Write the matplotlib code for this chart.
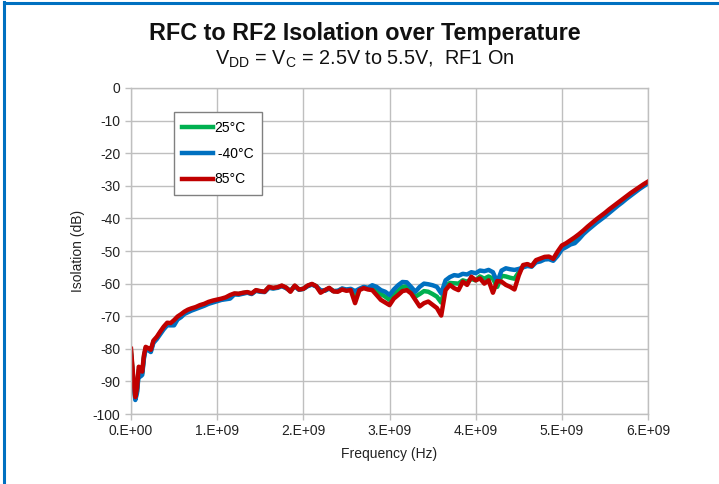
import numpy as np
import matplotlib
matplotlib.use('Agg')
import matplotlib.pyplot as plt
from matplotlib.lines import Line2D

plt.rcParams['font.family'] = ['Liberation Sans', 'DejaVu Sans']
plt.rcParams['mathtext.fontset'] = 'custom'
plt.rcParams['mathtext.rm'] = 'Liberation Sans'
plt.rcParams['axes.unicode_minus'] = False

# frequency points (GHz)
freq_ghz = [0.00, 0.03, 0.05, 0.07, 0.09, 0.11, 0.13, 0.15, 0.17, 0.20, 0.23, 0.26,
            0.30, 0.34, 0.38, 0.42, 0.46, 0.50, 0.54, 0.58, 0.62, 0.66, 0.70,
            0.75, 0.80, 0.85, 0.90, 0.95, 1.00, 1.05, 1.10, 1.15, 1.20, 1.25, 1.30,
            1.35, 1.40, 1.45, 1.50, 1.55, 1.60, 1.65, 1.70, 1.75, 1.80, 1.85, 1.90,
            1.95, 2.00, 2.05, 2.10, 2.15, 2.20, 2.25, 2.30, 2.35, 2.40, 2.45, 2.50,
            2.55, 2.60, 2.65, 2.70, 2.75, 2.80, 2.85, 2.90, 2.95, 3.00, 3.05, 3.10,
            3.15, 3.20, 3.25, 3.30, 3.35, 3.40, 3.45, 3.50, 3.55, 3.60, 3.65, 3.70,
            3.75, 3.80, 3.85, 3.90, 3.95, 4.00, 4.05, 4.10, 4.15, 4.20, 4.25, 4.30,
            4.35, 4.40, 4.45, 4.50, 4.55, 4.60, 4.65, 4.70, 4.75, 4.80, 4.85, 4.90,
            4.95, 5.00, 5.05, 5.10, 5.15, 5.20, 5.25, 5.30, 5.35, 5.40, 5.45, 5.50,
            5.55, 5.60, 5.65, 5.70, 5.75, 5.80, 5.85, 5.90, 5.95, 6.00]

iso_25 = [-81.0, -90.5, -95.0, -93.0, -86.5, -87.5, -87.5, -82.5, -79.8, -80.0, -80.6, -77.8,
          -76.6, -75.0, -73.5, -72.3, -72.4, -72.0, -70.5, -69.8, -69.0, -68.4, -68.0,
          -67.5, -67.0, -66.5, -65.9, -65.5, -65.1, -64.8, -64.5, -64.0, -63.2, -63.2, -62.9,
          -62.7, -63.1, -62.1, -62.4, -62.5, -61.2, -61.4, -61.2, -60.7, -61.3, -62.3, -60.7,
          -61.8, -61.6, -60.7, -60.2, -60.8, -62.4, -62.1, -61.4, -62.3, -62.3, -61.6, -62.0,
          -61.8, -63.5, -61.8, -61.2, -61.5, -61.2, -62.0, -63.2, -64.0, -65.0, -63.2, -62.2,
          -61.0, -60.8, -62.2, -64.0, -63.2, -62.3, -62.5, -63.2, -64.0, -65.8, -60.8, -59.8,
          -59.9, -60.0, -59.0, -59.4, -58.6, -59.0, -57.8, -58.5, -57.8, -58.5, -61.0, -57.6,
          -57.8, -58.2, -58.5, -56.5, -54.7, -54.3, -54.7, -53.0, -52.7, -52.2, -52.1, -52.7,
          -50.8, -48.9, -48.2, -47.3, -46.6, -45.5, -44.2, -43.0, -41.9, -40.8, -39.8, -38.8,
          -37.7, -36.7, -35.6, -34.6, -33.6, -32.6, -31.6, -30.7, -29.8, -28.9]

iso_m40 = [-82.0, -91.0, -95.7, -93.5, -87.5, -88.5, -88.0, -83.0, -80.0, -80.4, -81.0, -78.2,
           -77.0, -75.5, -74.0, -72.8, -72.8, -72.8, -71.0, -70.3, -69.3, -68.8, -68.3,
           -67.8, -67.3, -66.8, -66.2, -65.8, -65.4, -65.0, -64.8, -64.6, -63.3, -63.4, -63.1,
           -62.8, -63.2, -62.2, -62.5, -62.6, -61.3, -61.5, -61.3, -60.8, -61.4, -62.2, -60.8,
           -61.9, -61.6, -60.8, -60.3, -60.9, -62.0, -62.2, -61.5, -62.3, -62.2, -61.5, -61.8,
           -61.6, -62.3, -61.6, -61.0, -61.3, -60.5, -61.0, -62.0, -62.5, -63.5, -61.8, -60.5,
           -59.5, -59.6, -61.0, -62.5, -61.0, -60.0, -60.2, -60.5, -61.0, -63.0, -59.0, -58.0,
           -57.4, -57.6, -57.0, -57.2, -56.5, -56.8, -56.0, -56.2, -55.8, -56.5, -59.5, -56.0,
           -55.3, -55.6, -55.8, -55.5, -55.0, -54.6, -54.8, -53.5, -53.2, -52.6, -52.5, -53.0,
           -51.5, -49.5, -48.8, -48.0, -47.6, -46.3, -44.8, -43.6, -42.5, -41.4, -40.4, -39.4,
           -38.3, -37.2, -36.1, -35.1, -34.0, -33.0, -32.0, -31.0, -30.1, -29.2]

iso_85 = [-80.0, -90.0, -94.8, -92.0, -85.5, -86.2, -87.0, -82.0, -79.4, -79.8, -80.3, -77.5,
          -76.3, -74.7, -73.2, -72.0, -72.1, -71.2, -70.1, -69.4, -68.6, -68.0, -67.6,
          -67.2, -66.6, -66.2, -65.6, -65.2, -64.9, -64.6, -64.2, -63.5, -63.0, -63.1, -62.8,
          -62.6, -63.0, -62.0, -62.3, -62.5, -61.0, -61.3, -61.1, -60.6, -61.2, -62.5, -60.6,
          -61.8, -61.6, -60.6, -60.1, -60.8, -62.8, -62.0, -61.3, -62.4, -62.5, -61.8, -62.2,
          -62.0, -66.0, -62.0, -61.4, -61.8, -62.0, -63.5, -65.0, -65.8, -66.6, -64.6, -63.5,
          -62.3, -62.0, -63.0, -65.0, -67.0, -66.0, -65.5, -66.5, -67.5, -69.8, -62.0, -60.4,
          -61.4, -62.0, -59.4, -60.4, -57.9, -59.0, -58.4, -60.0, -59.0, -62.8, -59.2, -59.4,
          -60.4, -61.0, -61.8, -57.5, -54.3, -54.0, -54.6, -52.8, -52.3, -51.8, -51.7, -52.4,
          -50.2, -48.3, -47.6, -46.7, -45.8, -44.8, -43.7, -42.5, -41.4, -40.3, -39.3, -38.3,
          -37.2, -36.2, -35.2, -34.2, -33.2, -32.2, -31.3, -30.4, -29.5, -28.7]

x_ticks = [0, 1e9, 2e9, 3e9, 4e9, 5e9, 6e9]
x_tick_labels = ['0.E+00', '1.E+09', '2.E+09', '3.E+09', '4.E+09', '5.E+09', '6.E+09']
y_ticks = [0, -10, -20, -30, -40, -50, -60, -70, -80, -90, -100]

freq = np.array(freq_ghz) * 1e9

fig = plt.figure(figsize=(7.19, 4.84), dpi=100)
ax = fig.add_axes([0.1822, 0.1446, 0.7191, 0.6736])

ax.plot(freq, iso_25, color='#00B050', lw=3.2, label='25°C', solid_joinstyle='round')
ax.plot(freq, iso_m40, color='#0070C0', lw=3.2, label=' -40°C', solid_joinstyle='round')
ax.plot(freq, iso_85, color='#C00000', lw=3.2, label='85°C', solid_joinstyle='round')

ax.set_xlim(0, 6e9)
ax.set_ylim(-100, 0)
ax.set_xticks(x_ticks)
ax.set_xticklabels(x_tick_labels)
ax.set_yticks(y_ticks)
ax.grid(True, color='#BFBFBF', lw=1)
ax.set_axisbelow(True)
for s in ax.spines.values():
    s.set_color('#BFBFBF')
    s.set_linewidth(1)
ax.tick_params(colors='#BFBFBF', labelcolor='#222222', labelsize=10, length=4, width=1)

ax.set_xlabel('Frequency (Hz)', fontsize=10, color='#222222', labelpad=6)
ax.set_ylabel('Isolation (dB)', fontsize=10, color='#222222', labelpad=6)

leg = ax.legend(loc='upper left', bbox_to_anchor=(0.083, 0.925), fontsize=10,
                fancybox=False, framealpha=1, edgecolor='#808080',
                handlelength=2.2, handletextpad=0.1, labelspacing=0.85,
                borderpad=0.6, borderaxespad=0)
leg.get_frame().set_linewidth(1)

fig.text(0.507, 0.93, 'RFC to RF2 Isolation over Temperature', ha='center', va='center',
         fontsize=16.8, fontweight='bold', color='#111111')
fig.text(0.507, 0.877, r'V$_{\mathregular{DD}}$ = V$_{\mathregular{C}}$ = 2.5V to 5.5V,  RF1 On',
         ha='center', va='center', fontsize=14.3, color='#111111')

# blue frame on left and top
fig.add_artist(Line2D([0.006, 0.006], [0, 0.995], transform=fig.transFigure, color='#0070C0', lw=2.2))
fig.add_artist(Line2D([0.006, 1.0], [0.993, 0.993], transform=fig.transFigure, color='#0070C0', lw=2.2))

plt.savefig('out.png', dpi=100)
